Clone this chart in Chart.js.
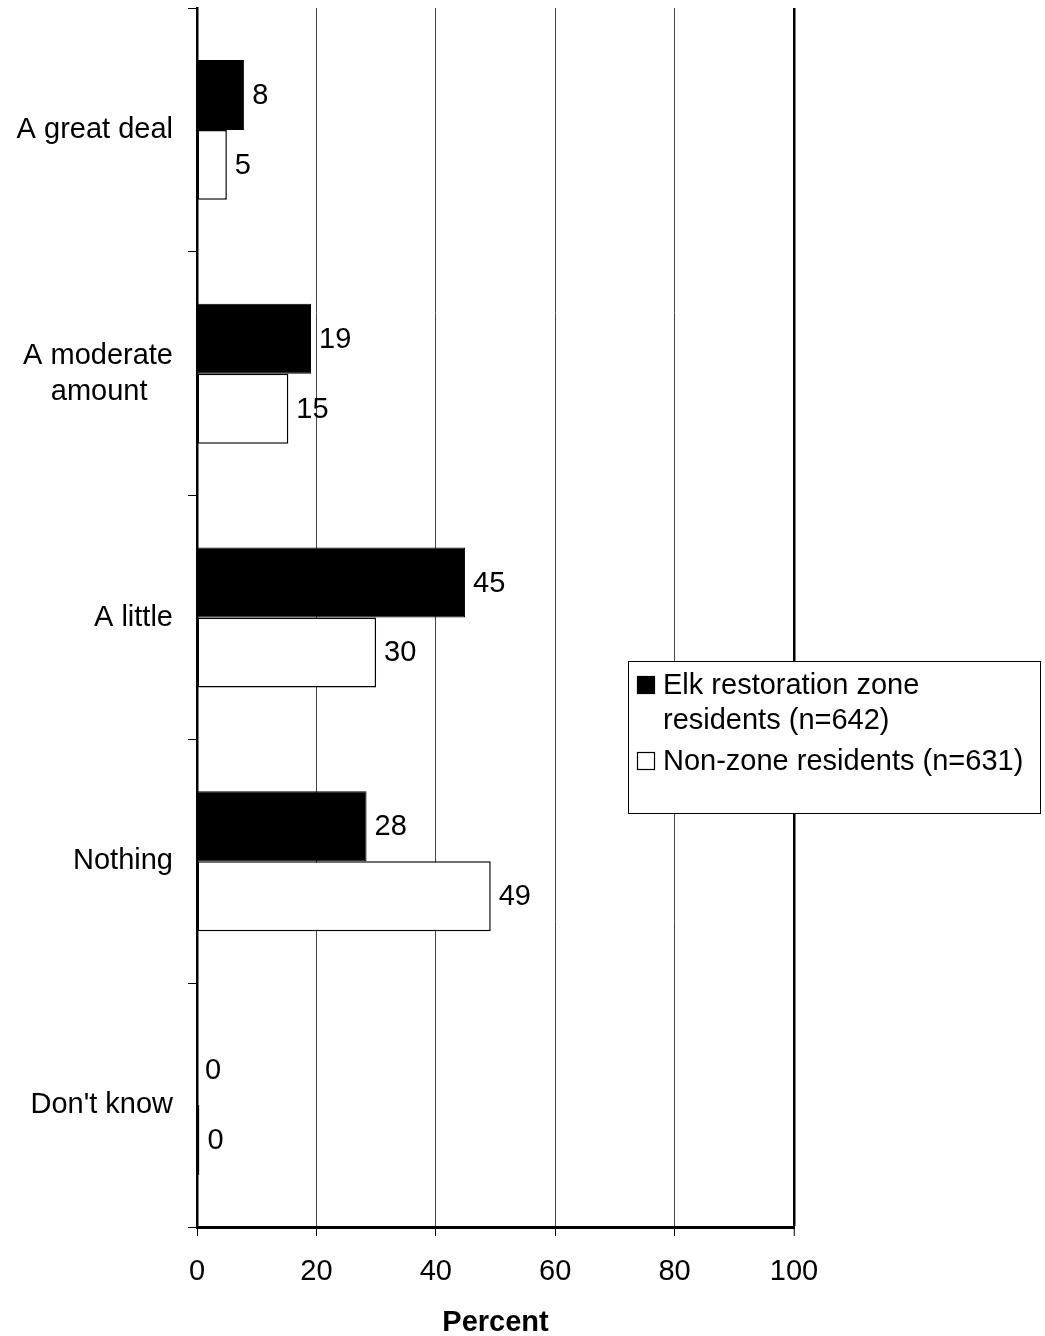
<!DOCTYPE html>
<html>
<head>
<meta charset="utf-8">
<script src="https://cdn.jsdelivr.net/npm/chart.js@4/dist/chart.umd.min.js"></script>
<style>
html,body{margin:0;padding:0;background:#fff;}
#wrap{width:1045px;height:1336px;position:relative;}
</style>
</head>
<body>
<div id="wrap"><canvas id="c" width="1045" height="1336"></canvas></div>
<script>
const categories = ["A great deal", ["A moderate", "amount"], "A little", "Nothing", "Don't know"];
const zoneValues = [7.9, 19.1, 44.9, 28.4, 0];
const nonZoneValues = [5.0, 15.3, 30.0, 49.2, 0.4];
const zoneLabel = ["Elk restoration zone", "residents (n=642)"];
const nonZoneLabel = ["Non-zone residents (n=631)"];
const xTicks = [0, 20, 40, 60, 80, 100];
const axisTitle = "Percent";

const FONT = "'Liberation Sans', Arial, sans-serif";
const FS = 29;

// center lines of multi-line category labels inside a right-aligned block
const measureCtx = document.createElement('canvas').getContext('2d');
measureCtx.font = FS + "px " + FONT;
function centerLines(lbl) {
  if (!Array.isArray(lbl)) return lbl;
  const widths = lbl.map(s => measureCtx.measureText(s).width);
  const w = Math.max(...widths);
  const sp = measureCtx.measureText(' ').width;
  const thin = measureCtx.measureText('\u2009').width || sp;
  return lbl.map((s, i) => {
    const need = (w - widths[i]) / 2;
    let best = '', bestErr = need;
    for (let a = 0; a <= 10; a++) {
      for (let b = 0; b <= 6; b++) {
        const err = Math.abs(need - (a * sp + b * thin));
        if (err < bestErr) { bestErr = err; best = ' '.repeat(a) + '\u2009'.repeat(b); }
      }
    }
    return s + best;
  });
}

const valueLabels = {
  id: 'valueLabels',
  afterDatasetsDraw(chart) {
    const ctx = chart.ctx;
    ctx.save();
    ctx.font = FS + "px " + FONT;
    ctx.fillStyle = "#000";
    ctx.textAlign = "left";
    ctx.textBaseline = "middle";
    chart.data.datasets.forEach((ds, i) => {
      const meta = chart.getDatasetMeta(i);
      meta.data.forEach((bar, j) => {
        const v = Math.round(ds.data[j]);
        ctx.fillText(String(v), bar.x + 8, bar.y + 1);
      });
    });
    ctx.restore();
  }
};

const boxLegend = {
  id: 'boxLegend',
  afterDraw(chart) {
    const ctx = chart.ctx;
    ctx.save();
    const bx = 628.5, by = 661.5, bw = 412, bh = 152;
    ctx.fillStyle = "#fff";
    ctx.fillRect(bx, by, bw, bh);
    ctx.strokeStyle = "#000";
    ctx.lineWidth = 1;
    ctx.strokeRect(bx, by, bw, bh);
    ctx.font = FS + "px " + FONT;
    ctx.textAlign = "left";
    ctx.textBaseline = "middle";
    const items = [
      {lines: zoneLabel, fill: "#000", y: 685},
      {lines: nonZoneLabel, fill: "#fff", y: 761}
    ];
    items.forEach(it => {
      ctx.fillStyle = it.fill;
      ctx.fillRect(637, it.y - 9, 18, 18);
      ctx.strokeStyle = "#000";
      ctx.lineWidth = 1.2;
      ctx.strokeRect(637.5, it.y - 8.5, 17, 17);
      ctx.fillStyle = "#000";
      it.lines.forEach((ln, k) => ctx.fillText(ln, 663, it.y + 1 + k * 35));
    });
    ctx.restore();
  }
};

new Chart(document.getElementById('c'), {
  type: 'bar',
  data: {
    labels: categories,
    datasets: [
      {label: zoneLabel.join(' '), data: zoneValues, backgroundColor: '#000', borderColor: '#000', borderWidth: 1,
       barPercentage: 1, categoryPercentage: 0.574},
      {label: nonZoneLabel.join(' '), data: nonZoneValues, backgroundColor: '#fff', borderColor: '#000', borderWidth: 1.5,
       borderSkipped: false, barPercentage: 1, categoryPercentage: 0.574}
    ]
  },
  options: {
    indexAxis: 'y',
    responsive: false,
    animation: false,
    devicePixelRatio: 1,
    layout: {padding: {top: 8, right: 251, left: 0, bottom: 0}},
    plugins: {legend: {display: false}, tooltip: {enabled: false}},
    scales: {
      x: {
        min: 0, max: 100,
        afterBuildTicks(scale) { scale.ticks = xTicks.map(v => ({value: v})); },
        afterFit(scale) { scale.height = 109; scale.paddingLeft = 0; scale.paddingRight = 0; },
        border: {display: true, color: '#000', width: 3},
        grid: {
          drawOnChartArea: true, drawTicks: true, tickLength: 9,
          color: ctx => ctx.tick && ctx.tick.value === 100 ? '#000' : (ctx.tick && ctx.tick.value === 0 ? 'rgba(0,0,0,0)' : '#444'),
          lineWidth: ctx => ctx.tick && ctx.tick.value === 100 ? 2.5 : 1,
          tickColor: '#000', tickWidth: 1
        },
        ticks: {font: {family: FONT, size: FS}, color: '#000', padding: 19, maxRotation: 0},
        title: {display: true, text: axisTitle, font: {family: FONT, size: FS, weight: 'bold'}, color: '#000', padding: {top: 8, bottom: -4}}
      },
      y: {
        afterFit(scale) { scale.width = 197; scale.paddingTop = 0; scale.paddingBottom = 0; },
        border: {display: true, color: '#000', width: 2.5},
        grid: {offset: true, drawOnChartArea: false, drawTicks: true, tickLength: 9, tickColor: '#000', tickWidth: 1},
        ticks: {font: {family: FONT, size: FS, lineHeight: 1.24}, color: '#000', padding: 15,
                callback: function(v, i) { return centerLines(categories[i]); }}
      }
    }
  },
  plugins: [valueLabels, boxLegend]
});
</script>
</body>
</html>
